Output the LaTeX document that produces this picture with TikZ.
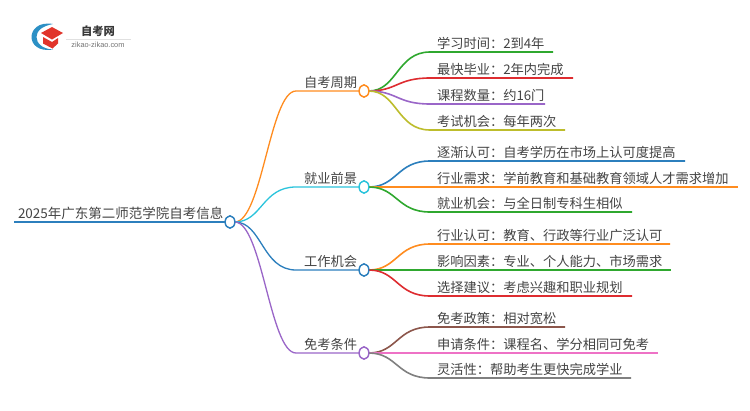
\documentclass[tikz,border=0pt]{standalone}
\usepackage{fontspec}
\usetikzlibrary{shapes.geometric}
\setmainfont{Liberation Sans}
\newfontfamily\cjk{Noto Sans CJK SC}
\definecolor{cOrange}{HTML}{FF8C1F}
\definecolor{cCyan}{HTML}{2BC4DC}
\definecolor{cBlue}{HTML}{2C7FBD}
\definecolor{cPurple}{HTML}{9A66C8}
\definecolor{cGreen}{HTML}{2FA82F}
\definecolor{cRed}{HTML}{DE2C30}
\definecolor{cOlive}{HTML}{BDBD2C}
\definecolor{cBrown}{HTML}{8C564B}
\definecolor{cPink}{HTML}{EE72C6}
\definecolor{cGray}{HTML}{808080}
\definecolor{txt}{HTML}{444444}
\tikzset{
  x=1pt,y=-1pt,
  lab/.style={font=\cjk\fontsize{13.25}{15}\selectfont,text=txt,anchor=south west,inner sep=0pt,outer sep=0pt},
  joint/.style={ellipse,draw=#1,fill=white,line width=1.3pt,minimum width=9.6pt,minimum height=12.2pt,inner sep=0pt,outer sep=0pt},
  mainlink/.style={draw=#1,line width=1.3pt},
  leaflink/.style={draw=#1,line width=1.6pt},
}
\begin{document}
\begin{tikzpicture}
\useasboundingbox (0,0) rectangle (750,410);
\fill[white] (0,0) rectangle (750,410);
% logo
\fill[cBlue!75!cCyan] (53,24) .. controls (38,21.5) and (31.5,30) .. (31.5,37) .. controls (31.5,44) and (38,52) .. (53,49.5) .. controls (42,49) and (36.5,43) .. (36.5,37) .. controls (36.5,31) and (42,26) .. (53,24) -- cycle;
\fill[cRed!90!orange] (52,27) -- (63,33) -- (52,39.5) -- (41,33) -- cycle;
\fill[cRed!90!orange] (43,37) -- (52,42) -- (58,38) -- (58,43.5) -- (52.5,48.5) -- (43,43.5) -- cycle;
\node[inner sep=0pt,font=\cjk\bfseries\fontsize{11.3}{13}\selectfont,text=black!78] (logoa) at (98,31) {自考网};
\node[inner sep=0pt,font=\fontsize{7.4}{9}\selectfont,text=black!55] (logob) at (98,45) {zikao-zikao.com};
\draw[black!12,line width=.5pt] (66,39.3) -- (131,39.3);
% root
\coordinate (rootl) at (14,222);
\node[joint=cBlue] (root) at (230,222) {};
\draw[draw=cBlue,line width=1.6pt] (rootl) -- (root.west);
\node[lab,font=\cjk\fontsize{13.5}{16}\selectfont] (roottext) at (18,219.5) {2025年广东第二师范学院自考信息};
% level 1 nodes
\node[joint=cOrange] (a) at (364,91) {};
\node[joint=cCyan] (b) at (364,187) {};
\node[joint=cBlue] (c) at (364,270) {};
\node[joint=cPurple] (d) at (364,353) {};
\coordinate (ax) at (296,91);
\coordinate (bx) at (296,187);
\coordinate (cx) at (296,270);
\coordinate (dx) at (296,353);
\draw[mainlink=cOrange] (root.east) .. controls (262,222) and (270,91) .. (ax) -- (a.west);
\draw[mainlink=cCyan] (root.east) .. controls (262,222) and (262,187) .. (bx) -- (b.west);
\draw[mainlink=cBlue] (root.east) .. controls (262,222) and (262,270) .. (cx) -- (c.west);
\draw[mainlink=cPurple] (root.east) .. controls (262,222) and (270,353) .. (dx) -- (d.west);
\node[lab] (at) at (304,88.5) {自考周期};
\node[lab] (bt) at (304,184.5) {就业前景};
\node[lab] (ct) at (304,267.5) {工作机会};
\node[lab] (dt) at (304,350.5) {免考条件};
\foreach \c/\e/\y/\n/\p/\py/\t in {
 cGreen/553/52/a1/a/91/学习时间：2到4年,
 cRed/573/78/a2/a/91/最快毕业：2年内完成,
 cPurple/545/104/a3/a/91/课程数量：约16门,
 cOlive/565/130/a4/a/91/考试机会：每年两次,
 cBlue/685/161/b1/b/187/逐渐认可：自考学历在市场上认可度提高,
 cOrange/738/187/b2/b/187/行业需求：学前教育和基础教育领域人才需求增加,
 cGreen/632/212/b3/b/187/就业机会：与全日制专科生相似,
 cOrange/670/244/c1/c/270/行业认可：教育、行政等行业广泛认可,
 cGreen/671/270/c2/c/270/影响因素：专业、个人能力、市场需求,
 cRed/632/296/c3/c/270/选择建议：考虑兴趣和职业规划,
 cBrown/565/327/d1/d/353/免考政策：相对宽松,
 cPink/658/353/d2/d/353/申请条件：课程名、学分相同可免考,
 cGray/631/378/d3/d/353/灵活性：帮助考生更快完成学业}{
  \coordinate (\n s) at (430,\y);
  \coordinate (\n e) at (\e,\y);
  \node[lab] (\n) at (437,\y-2.5) {\t};
  \draw[leaflink=\c] (\p.east) .. controls (397,\py) and (397,\y) .. (\n s) -- (\n e);
}
% joints stay on top of the links
\foreach \n/\c in {root/cBlue,a/cOrange,b/cCyan,c/cBlue,d/cPurple}{
  \node[joint=\c] at (\n) {};
}
\end{tikzpicture}
\end{document}
